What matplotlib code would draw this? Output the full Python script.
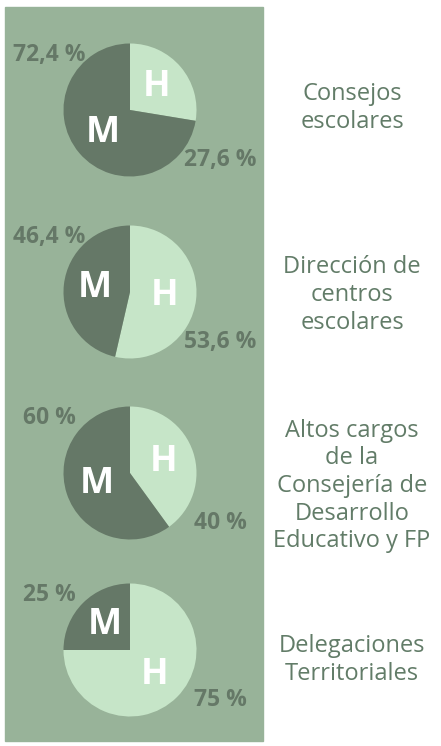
import matplotlib.pyplot as plt
import numpy as np

categories = ['Consejos\nescolares',
              'Dirección de\ncentros\nescolares',
              'Altos cargos\nde la\nConsejería de\nDesarrollo\nEducativo y FP',
              'Delegaciones\nTerritoriales']
hombres = [27.6, 53.6, 40, 75]
mujeres = [72.4, 46.4, 60, 25]
pct_h = ['27,6 %', '53,6 %', '40 %', '75 %']
pct_m = ['72,4 %', '46,4 %', '60 %', '25 %']

bg = '#98b399'
dark = '#657867'
light = '#c6e5c8'
txt = '#627c68'

W, H = 441, 746
fig = plt.figure(figsize=(W / 100, H / 100), dpi=100)
ax = fig.add_axes([0, 0, 1, 1])

# green panel behind the pies
ax.add_patch(plt.Rectangle((5, 5), 258, H - 12, color=bg, zorder=0))

cx = 130
cys = [H - 110, H - 292, H - 473, H - 650]
label_ys = [H - 108, H - 295, H - 486, H - 660]
r = 66.5

for i in range(4):
    cy = cys[i]
    wedges, texts = ax.pie([hombres[i], mujeres[i]], labels=['H', 'M'],
                           colors=[light, dark], startangle=90, counterclock=False,
                           center=(cx, cy), radius=r, labeldistance=0.53,
                           textprops=dict(color='white', fontsize=26, fontweight='bold',
                                          family='Open Sans', ha='center', va='center'),
                           frame=True)
    ax.text(cx - 81, cy + 55, pct_m[i], ha='center', va='center', color=dark,
            fontsize=16.5, fontweight='bold', family='Open Sans')
    ax.text(cx + 90, cy - 50, pct_h[i], ha='center', va='center', color=dark,
            fontsize=16.5, fontweight='bold', family='Open Sans')
    ax.text(352, label_ys[i], categories[i], ha='center', va='center', color=txt,
            fontsize=17, family='Open Sans', linespacing=1.2)

ax.set_xlim(0, W)
ax.set_ylim(0, H)
ax.set_aspect('equal')
ax.axis('off')

fig.savefig('out.png', dpi=100)
